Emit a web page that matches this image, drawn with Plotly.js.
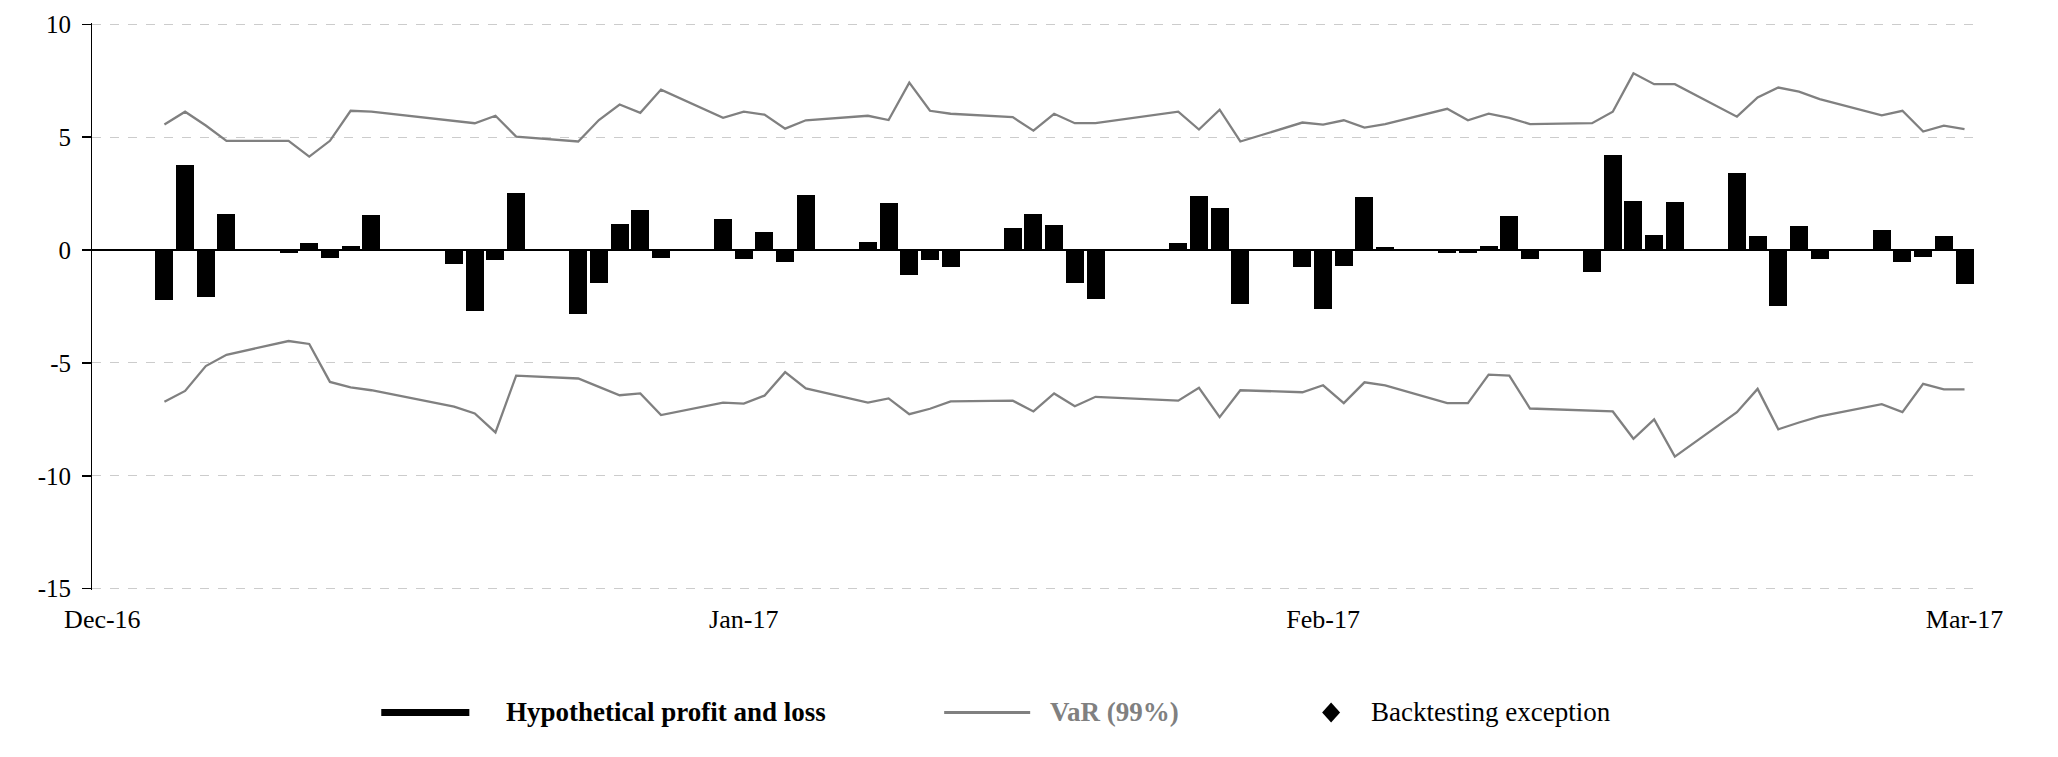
<!DOCTYPE html>
<html>
<head>
<meta charset="utf-8">
<script src="https://cdn.plot.ly/plotly-3.0.1.min.js"></script>
<style>
  html, body { margin: 0; padding: 0; background: #ffffff; }
  #chart { width: 2058px; height: 757px; }
</style>
</head>
<body>
<div id="chart"></div>
<script>
// Trading days (Q1 2017)
const dates = [
  '2017-01-03','2017-01-04','2017-01-05','2017-01-06',
  '2017-01-09','2017-01-10','2017-01-11','2017-01-12','2017-01-13',
  '2017-01-17','2017-01-18','2017-01-19','2017-01-20',
  '2017-01-23','2017-01-24','2017-01-25','2017-01-26','2017-01-27',
  '2017-01-30','2017-01-31','2017-02-01','2017-02-02','2017-02-03',
  '2017-02-06','2017-02-07','2017-02-08','2017-02-09','2017-02-10',
  '2017-02-13','2017-02-14','2017-02-15','2017-02-16','2017-02-17',
  '2017-02-21','2017-02-22','2017-02-23','2017-02-24',
  '2017-02-27','2017-02-28','2017-03-01','2017-03-02','2017-03-03',
  '2017-03-06','2017-03-07','2017-03-08','2017-03-09','2017-03-10',
  '2017-03-13','2017-03-14','2017-03-15','2017-03-16','2017-03-17',
  '2017-03-20','2017-03-21','2017-03-22','2017-03-23','2017-03-24',
  '2017-03-27','2017-03-28','2017-03-29','2017-03-30','2017-03-31'
];

// Hypothetical profit and loss
const pnl = [
  -2.19, 3.79, -2.06, 1.58,
  -0.11, 0.31, -0.33, 0.18, 1.55,
  -0.61, -2.69, -0.42, 2.52,
  -2.84, -1.47, 1.16, 1.77, -0.33,
  1.38, -0.39, 0.79, -0.55, 2.45,
  0.35, 2.08, -1.09, -0.44, -0.76,
  0.98, 1.60, 1.10, -1.47, -2.15,
  0.31, 2.39, 1.86, -2.38,
  -0.74, -2.60, -0.70, 2.36, 0.13,
  -0.11, -0.11, 0.18, 1.49, -0.39,
  -0.96, 4.22, 2.17, 0.66, 2.14,
  3.43, 0.63, -2.47, 1.07, -0.39,
  0.88, -0.52, -0.29, 0.63, -1.49
];

// VaR (99%) upper and lower bounds
const varUpper = [
  5.56, 6.13, 5.52, 4.84,
  4.84, 4.14, 4.84, 6.17, 6.13,
  5.73, 5.62, 5.95, 5.03,
  4.81, 5.76, 6.45, 6.08, 7.11,
  5.86, 6.13, 6.00, 5.38, 5.75,
  5.95, 5.76, 7.42, 6.17, 6.04,
  5.89, 5.29, 6.04, 5.62, 5.62,
  6.13, 5.34, 6.22, 4.81,
  5.65, 5.56, 5.75, 5.43, 5.58,
  6.26, 5.75, 6.04, 5.86, 5.58,
  5.62, 6.13, 7.83, 7.35, 7.35,
  5.91, 6.76, 7.20, 7.02, 6.69,
  5.97, 6.17, 5.25, 5.51, 5.36
];
const varLower = [
  -6.72, -6.24, -5.14, -4.64,
  -4.03, -4.16, -5.84, -6.08, -6.21,
  -6.94, -7.24, -8.08, -5.56,
  -5.69, -6.06, -6.43, -6.35, -7.31,
  -6.76, -6.80, -6.45, -5.41, -6.13,
  -6.76, -6.57, -7.27, -7.03, -6.70,
  -6.67, -7.15, -6.35, -6.92, -6.50,
  -6.67, -6.10, -7.40, -6.21,
  -6.30, -5.99, -6.78, -5.86, -5.99,
  -6.78, -6.78, -5.52, -5.56, -7.02,
  -7.11, -7.15, -8.36, -7.50, -9.15,
  -7.18, -6.15, -7.94, -7.64, -7.37,
  -6.83, -7.18, -5.93, -6.17, -6.17
];

// Backtesting exceptions (none in the period)
const exceptionDates = [];
const exceptionValues = [];

// Axis ticks
const xTickVals = ['2016-12-31', '2017-01-31', '2017-02-28', '2017-03-31'];
const yTickVals = [-15, -10, -5, 0, 5, 10];
const yTickText = ['-15', '-10', '-5', '0', '5', '10'];

// Legend labels
const legendLabels = ['Hypothetical profit and loss', 'VaR (99%)', 'Backtesting exception'];

const FONT = 'Liberation Serif, Times New Roman, serif';
const DAY = 86400000;

const traces = [
  {
    type: 'bar', x: dates, y: pnl, name: legendLabels[0],
    marker: { color: '#000000', line: { width: 0 } },
    width: 0.87 * DAY, showlegend: false
  },
  {
    type: 'scatter', mode: 'lines', x: dates, y: varUpper, name: legendLabels[1],
    line: { color: '#808080', width: 2.3 }, showlegend: false
  },
  {
    type: 'scatter', mode: 'lines', x: dates, y: varLower, name: legendLabels[1],
    line: { color: '#808080', width: 2.3 }, showlegend: false
  },
  {
    type: 'scatter', mode: 'markers', x: exceptionDates, y: exceptionValues, name: legendLabels[2],
    marker: { symbol: 'diamond', color: '#000000', size: 16 }, showlegend: false
  }
];

// custom legend geometry (paper coordinates)
const LY = -0.2159;
const layout = {
  width: 2058, height: 757,
  margin: { l: 91.7, r: 84, t: 22.95, b: 167.3 },
  paper_bgcolor: '#ffffff', plot_bgcolor: '#ffffff',
  font: { family: FONT, size: 26, color: '#000000' },
  bargap: 0,
  xaxis: {
    type: 'date',
    range: ['2016-12-30 12:00', '2017-03-31 11:00'],
    tickmode: 'array', tickvals: xTickVals, tickformat: '%b-%y',
    ticks: '', showgrid: false, showline: false, zeroline: false,
    tickfont: { family: FONT, size: 26, color: '#000000' },
    ticklabelstandoff: 11
  },
  yaxis: {
    range: [-15.06, 10.06],
    tickmode: 'array', tickvals: yTickVals, ticktext: yTickText,
    ticks: 'outside', ticklen: 8.5, tickwidth: 1.5, tickcolor: '#000000',
    showline: true, linecolor: '#000000', linewidth: 1.5,
    showgrid: true, gridcolor: '#cccccc', gridwidth: 1, griddash: 'dash',
    zeroline: true, zerolinecolor: '#000000', zerolinewidth: 1.5,
    tickfont: { family: FONT, size: 25, color: '#000000' },
    ticklabelstandoff: 6
  },
  shapes: [
    { type: 'line', xref: 'paper', yref: 'paper', x0: 0.1537, x1: 0.2005, y0: LY, y1: LY,
      line: { color: '#000000', width: 7 } },
    { type: 'line', xref: 'paper', yref: 'paper', x0: 0.4528, x1: 0.4985, y0: LY, y1: LY,
      line: { color: '#808080', width: 3 } },
    { type: 'path', xref: 'paper', yref: 'paper', xsizemode: 'pixel', ysizemode: 'pixel',
      xanchor: 0.6584, yanchor: LY, path: 'M0,10 L9,0 L0,-10 L-9,0 Z',
      fillcolor: '#000000', line: { color: '#000000', width: 0 } }
  ],
  annotations: [
    { xref: 'paper', yref: 'paper', x: 0.2191, y: LY, xanchor: 'left', yanchor: 'middle',
      showarrow: false, text: '<b>' + legendLabels[0] + '</b>',
      font: { family: FONT, size: 27, color: '#000000' } },
    { xref: 'paper', yref: 'paper', x: 0.5081, y: LY, xanchor: 'left', yanchor: 'middle',
      showarrow: false, text: '<b>' + legendLabels[1] + '</b>',
      font: { family: FONT, size: 27, color: '#808080' } },
    { xref: 'paper', yref: 'paper', x: 0.6786, y: LY, xanchor: 'left', yanchor: 'middle',
      showarrow: false, text: legendLabels[2],
      font: { family: FONT, size: 27, color: '#000000' } }
  ],
  showlegend: false
};

Plotly.newPlot('chart', traces, layout, { displayModeBar: false, staticPlot: true });
</script>
</body>
</html>
